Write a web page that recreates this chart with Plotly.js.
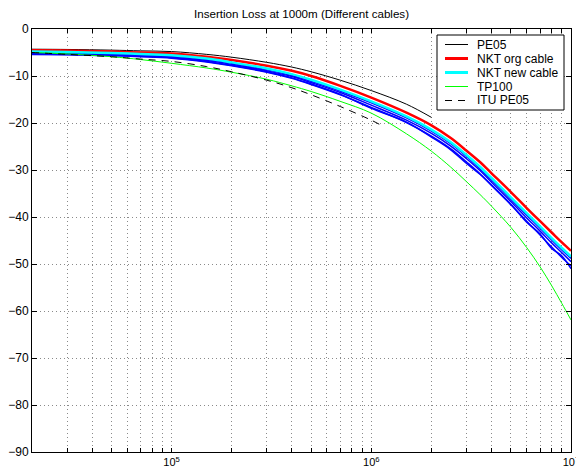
<!DOCTYPE html>
<html>
<head>
<meta charset="utf-8">
<script src="https://cdn.plot.ly/plotly-3.0.1.min.js"></script>
<style>html,body{margin:0;padding:0;background:#fff;}#chart{width:576px;height:473px;}</style>
</head>
<body>
<div id="chart"></div>
<script>
// Frequencies (Hz)
const freqFull = [2e4,3e4,5e4,7e4,1e5,1.5e5,2e5,3e5,4e5,5e5,7e5,1e6,1.5e6,2e6,2.5e6,3e6,3.5e6,4e6,5e6,6e6,7e6,8e6,9e6,1e7];
const freqPE05 = [2e4,3e4,5e4,7e4,1e5,1.5e5,2e5,3e5,4e5,5e5,7e5,1e6,1.5e6,2e6];
const freqITU  = [2e4,3e4,5e4,7e4,1e5,1.5e5,2e5,3e5,4e5,5e5,7e5,1e6,1.1e6];

// Insertion loss (dB)
const pe05   = [-4.3,-4.35,-4.5,-4.65,-4.8,-5.4,-6.0,-7.1,-8.1,-9.1,-10.9,-13.1,-16.0,-18.8];
const nktOrg = [-4.5,-4.6,-4.8,-5.0,-5.2,-5.9,-6.6,-7.8,-8.9,-10.0,-12.1,-14.6,-17.8,-20.5,-23.2,-25.9,-28.3,-30.7,-34.7,-38.1,-40.9,-43.3,-45.4,-47.2];
const nktNew = [-4.8,-4.9,-5.1,-5.3,-5.6,-6.3,-7.1,-8.4,-9.6,-10.8,-12.9,-15.4,-18.6,-21.4,-24.1,-26.8,-29.3,-31.7,-35.8,-39.2,-42.0,-44.5,-46.6,-48.4];
const tp100  = [-5.0,-5.3,-5.9,-6.5,-7.3,-8.3,-9.2,-10.7,-12.1,-13.3,-15.4,-17.9,-22.3,-26.0,-29.4,-32.5,-35.2,-37.7,-42.2,-46.5,-50.6,-54.6,-58.4,-61.9];
const ituPE05 = [-5.0,-5.4,-5.9,-6.4,-6.9,-8.0,-9.1,-10.9,-12.5,-14.0,-16.5,-19.4,-20.3];

// Individual measured pairs (blue, unlabelled)
const blue1 = [-5.0,-5.1,-5.3,-5.5,-5.8,-6.5,-7.3,-8.7,-9.9,-11.1,-13.2,-15.7,-18.9,-21.7,-24.4,-27.1,-29.7,-32.1,-36.2,-39.6,-42.4,-44.9,-47.0,-48.8];
const blue2 = [-5.2,-5.3,-5.5,-5.7,-6.0,-6.7,-7.5,-8.9,-10.1,-11.4,-13.5,-16.2,-19.4,-22.2,-24.9,-27.6,-30.1,-32.6,-36.7,-40.2,-43.0,-45.5,-47.6,-49.5];
const blue3 = [-5.4,-5.5,-5.7,-5.9,-6.2,-7.0,-7.8,-9.2,-10.5,-11.8,-14.0,-16.7,-19.9,-22.8,-25.5,-28.3,-30.8,-33.3,-37.4,-40.9,-43.8,-46.4,-48.6,-50.4];
const blue4 = [-5.3,-5.4,-5.6,-5.8,-6.1,-6.9,-7.7,-9.1,-10.4,-11.7,-13.9,-16.9,-19.8,-23.0,-25.7,-28.6,-30.9,-33.2,-37.3,-41.1,-43.6,-46.7,-48.3,-51.0];
const blueSets = [blue1, blue2, blue3, blue4];

// Legend entries
const legendNames = ['PE05', 'NKT org cable', 'NKT new cable', 'TP100', 'ITU PE05'];
const legendColors = ['#000000', '#ff0000', '#00ffff', '#00ff00', '#000000'];
const legendWidths = [1, 3, 3, 1, 1];
const legendDash = ['solid', 'solid', 'solid', 'solid', '7px,6px'];

// x tick positions / labels
const xTickVals = [];
const xTickText = [];
[4,5,6].forEach(function(d){
  for (let m = 1; m <= 9; m++) {
    const v = m * Math.pow(10, d);
    if (v < 2e4) continue;
    xTickVals.push(v);
    xTickText.push(m === 1 ? '10<sup>' + d + '</sup>' : '');
  }
});
xTickVals.push(1e7); xTickText.push('10<sup>7</sup>');

const traces = [];
blueSets.forEach(function(b){
  traces.push({x: freqFull, y: b, mode: 'lines', line: {color: '#0000ff', width: 1.5, shape: 'spline', smoothing: 1}, showlegend: false, hoverinfo: 'skip'});
});
traces.push({x: freqPE05, y: pe05, mode: 'lines', name: legendNames[0], line: {color: legendColors[0], width: 1, shape: 'spline'}});
traces.push({x: freqFull, y: nktOrg, mode: 'lines', name: legendNames[1], line: {color: legendColors[1], width: 2.5, shape: 'spline'}});
traces.push({x: freqFull, y: nktNew, mode: 'lines', name: legendNames[2], line: {color: legendColors[2], width: 2.5, shape: 'spline'}});
traces.push({x: freqFull, y: tp100, mode: 'lines', name: legendNames[3], line: {color: legendColors[3], width: 1, shape: 'spline'}});
traces.push({x: freqITU, y: ituPE05, mode: 'lines', name: legendNames[4], line: {color: legendColors[4], width: 1, dash: '7px,6px', shape: 'spline'}});

const fam = '"Liberation Sans", Arial, Helvetica, sans-serif';

// plot area in pixels: x 32..571, y 29..452
const PL = 32, PW = 539, PT = 29, PH = 423;
const px = function(p){ return (p - PL) / PW; };
const py = function(p){ return (PT + PH - p) / PH; };

const shapes = [{type: 'rect', xref: 'paper', yref: 'paper', x0: px(437), x1: px(564), y0: py(35), y1: py(110),
                 fillcolor: '#fff', line: {color: '#000', width: 1}, layer: 'above'}];
const annotations = [];
const rowY = [44.5, 58.5, 72.5, 86.5, 100.5];
legendNames.forEach(function(n, i){
  shapes.push({type: 'line', xref: 'paper', yref: 'paper', x0: px(445), x1: px(468), y0: py(rowY[i]), y1: py(rowY[i]),
               line: {color: legendColors[i], width: legendWidths[i], dash: legendDash[i]}, layer: 'above'});
  annotations.push({xref: 'paper', yref: 'paper', x: px(475), y: py(rowY[i]), xanchor: 'left', yanchor: 'middle',
                    text: n, showarrow: false, font: {family: fam, size: 12, color: '#000'}});
});

const layout = {
  width: 576, height: 473,
  margin: {l: PL, r: 576 - PL - PW, t: PT, b: 473 - PT - PH, pad: 0},
  paper_bgcolor: '#fff', plot_bgcolor: '#fff',
  font: {family: fam, size: 11, color: '#000'},
  title: {text: 'Insertion Loss at 1000m (Different cables)', font: {family: fam, size: 11.6, color: '#000'},
          x: 0.5, xref: 'paper', y: 1 - 14/473, yref: 'container', yanchor: 'middle'},
  xaxis: {
    type: 'log', range: [Math.log10(2e4), 7],
    tickmode: 'array', tickvals: xTickVals, ticktext: xTickText,
    ticks: 'inside', ticklen: 4, tickcolor: '#000', ticklabeloverflow: 'allow',
    showline: true, linecolor: '#000', linewidth: 1, mirror: 'ticks',
    showgrid: true, gridcolor: '#8a8a8a', griddash: '1px,3px', gridwidth: 1,
    zeroline: false, tickfont: {family: fam, size: 11, color: '#000'}
  },
  yaxis: {
    range: [-90, 0], tickmode: 'linear', tick0: 0, dtick: 10,
    ticks: 'inside', ticklen: 5, tickcolor: '#000',
    showline: true, linecolor: '#000', linewidth: 1, mirror: 'ticks',
    showgrid: true, gridcolor: '#8a8a8a', griddash: '1px,3px', gridwidth: 1,
    zeroline: false, tickfont: {family: fam, size: 12, color: '#000'}
  },
  showlegend: false,
  shapes: shapes,
  annotations: annotations
};

Plotly.newPlot('chart', traces, layout, {staticPlot: true, displayModeBar: false});
</script>
</body>
</html>
